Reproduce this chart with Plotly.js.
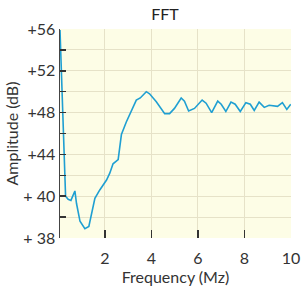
<!DOCTYPE html>
<html>
<head>
<meta charset="utf-8">
<script src="https://cdn.plot.ly/plotly-3.0.1.min.js"></script>
<style>html,body{margin:0;padding:0;background:#fff;}#chart{width:305px;height:294px;}</style>
</head>
<body>
<div id="chart"></div>
<script>
// Frequency (MHz) and amplitude (axis units)
const freq = [0.07, 0.31, 0.42, 0.54, 0.71, 0.78, 0.93, 1.14, 1.31, 1.43, 1.57, 1.78, 2.07, 2.21, 2.35, 2.57, 2.71, 2.92, 3.14, 3.35, 3.52, 3.78, 3.92, 4.21, 4.57, 4.78, 4.99, 5.28, 5.42, 5.6, 5.85, 6.18, 6.35, 6.59, 6.85, 7.0, 7.2, 7.42, 7.6, 7.82, 8.06, 8.25, 8.42, 8.63, 8.85, 9.06, 9.42, 9.63, 9.82, 9.99];
const amplitude = [55.9, 40.0, 39.7, 39.6, 40.5, 39.3, 37.6, 36.9, 37.1, 38.4, 39.8, 40.6, 41.55, 42.2, 43.1, 43.5, 45.9, 47.1, 48.1, 49.2, 49.4, 50.0, 49.8, 49.04, 47.9, 47.9, 48.4, 49.4, 49.1, 48.15, 48.4, 49.2, 48.9, 48.0, 49.1, 48.8, 48.1, 49.0, 48.8, 48.1, 48.95, 48.8, 48.2, 49.0, 48.5, 48.7, 48.6, 48.95, 48.3, 48.8];
const yTickVals = [36, 38, 40, 42, 44, 46, 48, 50, 52, 54, 56];
const yTickText = ["+ 38", "", "+ 40", "", "+44", "", "+48", "", "+52", "", "+56"];
const xTickVals = [2, 4, 6, 8, 10];
const xTickText = ["2", "4", "6", "8", "10"];

const font = "Lato, Open Sans, sans-serif";
Plotly.newPlot("chart", [{
  x: freq, y: amplitude, type: "scatter", mode: "lines",
  line: {color: "#1f9fd2", width: 1.6},
  hoverinfo: "skip"
}], {
  width: 305, height: 294,
  margin: {l: 60, r: 14, t: 29, b: 56},
  paper_bgcolor: "#ffffff",
  plot_bgcolor: "#fdfde6",
  showlegend: false,
  font: {family: font, color: "#333", size: 16},
  title: {text: "FFT", x: 0.541, xref: "container", xanchor: "center", y: 0.95, yref: "container", yanchor: "middle", font: {family: font, size: 16, color: "#222"}},
  xaxis: {
    range: [0.07, 10], tickvals: xTickVals, ticktext: xTickText,
    ticks: "inside", ticklen: 8, tickwidth: 1.5, tickcolor: "#333",
    showgrid: true, gridcolor: "#e6e2c8", gridwidth: 1,
    zeroline: false, showline: false,
    ticklabelstandoff: 9,
    tickfont: {size: 16, color: "#333"},
    title: {text: "Frequency (Mz)", standoff: 2, font: {size: 16, color: "#333"}}
  },
  yaxis: {
    range: [36, 56], tickvals: yTickVals, ticktext: yTickText,
    ticks: "inside", ticklen: 6, tickwidth: 1.5, tickcolor: "#333",
    showgrid: true, gridcolor: "#e6e2c8", gridwidth: 1,
    zeroline: false, showline: true, linecolor: "#444", linewidth: 1.5,
    tickfont: {size: 16, color: "#333"},
    title: {text: "Amplitude (dB)", font: {size: 16, color: "#333"}}
  }
}, {staticPlot: true});
</script>
</body>
</html>
